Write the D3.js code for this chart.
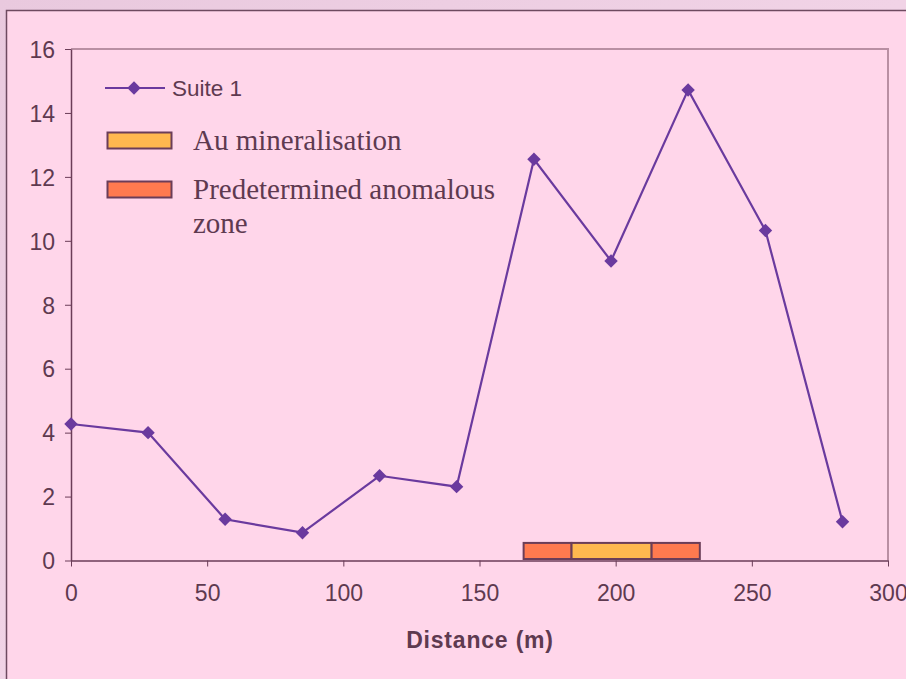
<!DOCTYPE html>
<html><head><meta charset="utf-8">
<script src="https://cdn.jsdelivr.net/npm/d3@7"></script>
<style>
html,body{margin:0;padding:0;background:#eecfe3;}
svg{display:block;}
</style></head>
<body>
<svg id="chart" width="906" height="679"></svg>
<script>
// ---- data ----
const distances = [0, 28.3, 56.6, 85, 113.3, 141.6, 170, 198.3, 226.6, 255, 283.3];
const values    = [4.27, 4.00, 1.29, 0.87, 2.65, 2.31, 12.55, 9.37, 14.72, 10.32, 1.21];
const seriesName = "Suite 1";
const zoneStarts = [166.2, 183.8, 213.2];
const zoneEnds   = [183.8, 213.2, 230.9];
const zoneKinds  = ["anomalous", "au", "anomalous"];
const zoneHeight = 0.55;
const xTicks = [0, 50, 100, 150, 200, 250, 300];
const yTicks = [0, 2, 4, 6, 8, 10, 12, 14, 16];
const legendLabels = ["Suite 1", "Au mineralisation", "Predetermined anomalous", "zone"];
const xTitle = "Distance (m)";

const colors = {line:"#6a3a9e", au:"#ffb84f", anomalous:"#ff7a4f", stroke:"#6b3d58", text:"#5e3a50"};

const svg = d3.select("#chart");
// background + outer frame
const bgDefs = svg.append("defs");
const grad = bgDefs.append("linearGradient").attr("id","bg").attr("x1","0").attr("y1","0").attr("x2","1").attr("y2","1");
grad.append("stop").attr("offset","0").attr("stop-color","#e9c9de");
grad.append("stop").attr("offset","0.5").attr("stop-color","#f1d3e6");
grad.append("stop").attr("offset","1").attr("stop-color","#ecccdf");
svg.append("rect").attr("width",906).attr("height",679).attr("fill","url(#bg)");
svg.append("rect").attr("x",6.5).attr("y",10.5).attr("width",920).attr("height",700)
  .attr("fill","#ffd6ea").attr("stroke","#6e4a60").attr("stroke-width",1.5);

const L = 71, R = 888, T = 49, B = 560.5;
const x = d3.scaleLinear().domain([0,300]).range([L,R]);
const y = d3.scaleLinear().domain([0,16]).range([B,T]);

// plot area border (top/right)
svg.append("path").attr("d",`M${L},${T}H${R}V${B}`).attr("fill","none")
  .attr("stroke","#b98fa3").attr("stroke-width",2);

// axes
const fontSans = "'Liberation Sans', Arial, sans-serif";
const xAxis = svg.append("g").attr("transform",`translate(0,${B})`)
  .call(d3.axisBottom(x).tickValues(xTicks).tickSize(6).tickPadding(18).tickSizeOuter(0));
const yAxis = svg.append("g").attr("transform",`translate(${L},0)`)
  .call(d3.axisLeft(y).tickValues(yTicks).tickSize(6).tickPadding(10).tickSizeOuter(0));
[xAxis,yAxis].forEach(g=>{
  g.select(".domain").attr("stroke",colors.stroke).attr("stroke-width",1.5);
  g.selectAll(".tick line").attr("stroke",colors.stroke).attr("stroke-width",1);
  g.selectAll(".tick text").attr("fill",colors.text).style("font-family",fontSans).style("font-size","23px");
});
yAxis.selectAll(".tick text").attr("dy","0.36em");

// zone bars
svg.append("g").selectAll("rect").data(zoneStarts).join("rect")
  .attr("x",(d)=>x(d)).attr("width",(d,i)=>x(zoneEnds[i])-x(d))
  .attr("y",y(zoneHeight)).attr("height",y(0)-y(zoneHeight)-1.5)
  .attr("fill",(d,i)=>colors[zoneKinds[i]]).attr("stroke",colors.stroke).attr("stroke-width",2);

// line
const pts = distances.map((d,i)=>[d, values[i]]);
svg.append("path").datum(pts)
  .attr("d", d3.line().x(d=>x(d[0])).y(d=>y(d[1])))
  .attr("fill","none").attr("stroke",colors.line).attr("stroke-width",2.2);
const diamond = d3.symbol().type(d3.symbolSquare).size(90)();
svg.append("g").selectAll("path").data(pts).join("path")
  .attr("d",diamond).attr("transform",d=>`translate(${x(d[0])},${y(d[1])}) rotate(45)`)
  .attr("fill",colors.line);

// x title
svg.append("text").attr("x",480).attr("y",648).attr("text-anchor","middle")
  .attr("fill",colors.text).style("font-family",fontSans).style("font-weight","bold")
  .style("font-size","23px").style("letter-spacing","0.8px").text(xTitle);

// legend
const lg = svg.append("g");
lg.append("line").attr("x1",105).attr("x2",165).attr("y1",88).attr("y2",88)
  .attr("stroke",colors.line).attr("stroke-width",2.2);
lg.append("path").attr("d",diamond).attr("transform","translate(134,88) rotate(45)").attr("fill",colors.line);
lg.append("text").attr("x",172).attr("y",96).attr("fill",colors.text)
  .style("font-family",fontSans).style("font-size","22.5px").text(legendLabels[0]);
lg.append("rect").attr("x",107.5).attr("y",132.5).attr("width",64).attr("height",16)
  .attr("fill",colors.au).attr("stroke",colors.stroke).attr("stroke-width",2);
lg.append("rect").attr("x",107.5).attr("y",181.5).attr("width",64).attr("height",16)
  .attr("fill",colors.anomalous).attr("stroke",colors.stroke).attr("stroke-width",2);
const serif = "'Liberation Serif','Times New Roman',serif";
[[legendLabels[1],150],[legendLabels[2],199],[legendLabels[3],233]].forEach(([t,yy])=>{
  lg.append("text").attr("x",193).attr("y",yy).attr("fill",colors.text)
    .style("font-family",serif).style("font-size","29px").text(t);
});
</script>
</body></html>
